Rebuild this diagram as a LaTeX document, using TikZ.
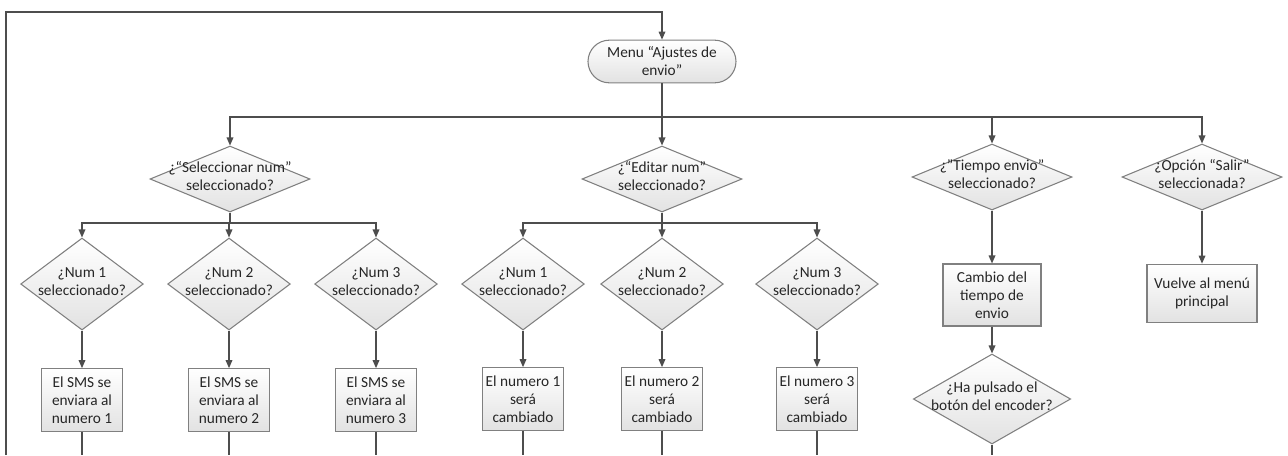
\documentclass[tikz,border=0pt]{standalone}
\usepackage{fontspec}
\setmainfont{Carlito}
\usepackage{xcolor}
\usepackage{tikz}
\usetikzlibrary{arrows.meta, shapes.geometric}

\definecolor{linegray}{HTML}{4D4D4D}
\definecolor{edgegray}{HTML}{808080}
\definecolor{fillgray}{HTML}{E2E2E2}
\definecolor{textgray}{HTML}{262626}

\newcommand{\ask}[2]{\smash{\makebox[0pt]{\raisebox{-2pt}{\begin{tabular}{@{}c@{}}#1\\#2\end{tabular}}}}}

\begin{document}
\begin{tikzpicture}[
		x=0.75pt, y=-0.75pt,
		line width=0.9pt,
		every node/.style={font=\fontsize{11.5}{13.5}\selectfont, text=textgray},
		flow/.style={draw=linegray, -{Triangle[length=6pt,width=5pt]}},
		link/.style={draw=linegray},
		shape base/.style={draw=edgegray, line width=0.8pt, top color=white, bottom color=fillgray},
		terminal/.style={shape base, rectangle, rounded corners=16pt, minimum width=111pt, minimum height=32pt, align=center, inner sep=0pt},
		decision/.style={shape base, diamond, inner sep=0pt, minimum width=120pt, minimum height=49.5pt},
		choice/.style={decision, minimum width=92pt, minimum height=69pt},
		process/.style={shape base, rectangle, align=center, inner sep=0pt, minimum width=61pt, minimum height=47pt}
		]
	\useasboundingbox (0,0) rectangle (1288,455);

	% Menu
	\node[terminal] (menu) at (662,61.5) {Menu “Ajustes de\\envio”};
	\coordinate (back) at (6,455);
	\coordinate (top) at (662,12);
	\draw[flow] (back) |- (top) -- (menu);

	% First level
	\node[decision] (selnum) at (230,179) {\ask{¿“Seleccionar num”}{seleccionado?}};
	\node[decision] (editnum) at (662,179) {\ask{¿“Editar num”}{seleccionado?}};
	\node[decision] (tiempo) at (992,177) {\ask{¿"Tiempo envio”}{seleccionado?}};
	\node[decision] (salir) at (1202,177) {\ask{¿Opción “Salir”}{seleccionada?}};
	\coordinate (menubr) at (662,117);
	\draw[link] (menu) -- (menubr);
	\draw[flow] (menubr) -- (editnum);
	\foreach \d in {selnum, tiempo, salir}{
		\draw[flow] (menubr) -| (\d);
	}

	% Seleccionar num
	\coordinate (selbr) at (230,223);
	\draw[link] (selnum) -- (selbr);
	\foreach \i/\x in {1/82, 2/229, 3/376}{
		\node[choice] (sel\i) at (\x,284) {\ask{¿Num \i}{seleccionado?}};
		\node[process] (sms\i) at (\x,400) {El SMS se\\enviara al\\numero \i};
		\draw[flow] (selbr) -| (sel\i);
		\draw[flow] (sel\i) -- (sms\i);
		\draw[link] (sms\i) -- (sms\i |- back);
	}

	% Editar num
	\coordinate (editbr) at (662,223);
	\draw[link] (editnum) -- (editbr);
	\foreach \i/\x in {1/523, 2/662, 3/817}{
		\node[choice] (edit\i) at (\x,284) {\ask{¿Num \i}{seleccionado?}};
		\node[process] (num\i) at (\x,399) {El numero \i\\será\\cambiado};
		\draw[flow] (editbr) -| (edit\i);
		\draw[flow] (edit\i) -- (num\i);
		\draw[link] (num\i) -- (num\i |- back);
	}

	% Tiempo envio
	\node[process, minimum width=73.5pt, minimum height=46.5pt] (cambio) at (992,295) {Cambio del\\tiempo de\\envio};
	\node[decision, minimum width=118pt, minimum height=67.5pt] (encoder) at (992,399) {\ask{¿Ha pulsado el}{botón del encoder?}};
	\draw[flow] (tiempo) -- (cambio);
	\draw[flow] (cambio) -- (encoder);
	\draw[link] (encoder) -- (encoder |- back);

	% Salir
	\node[process, minimum width=82.5pt, minimum height=44pt] (vuelve) at (1202,293.5) {Vuelve al menú\\principal};
	\draw[flow] (salir) -- (vuelve);

\end{tikzpicture}
\end{document}
